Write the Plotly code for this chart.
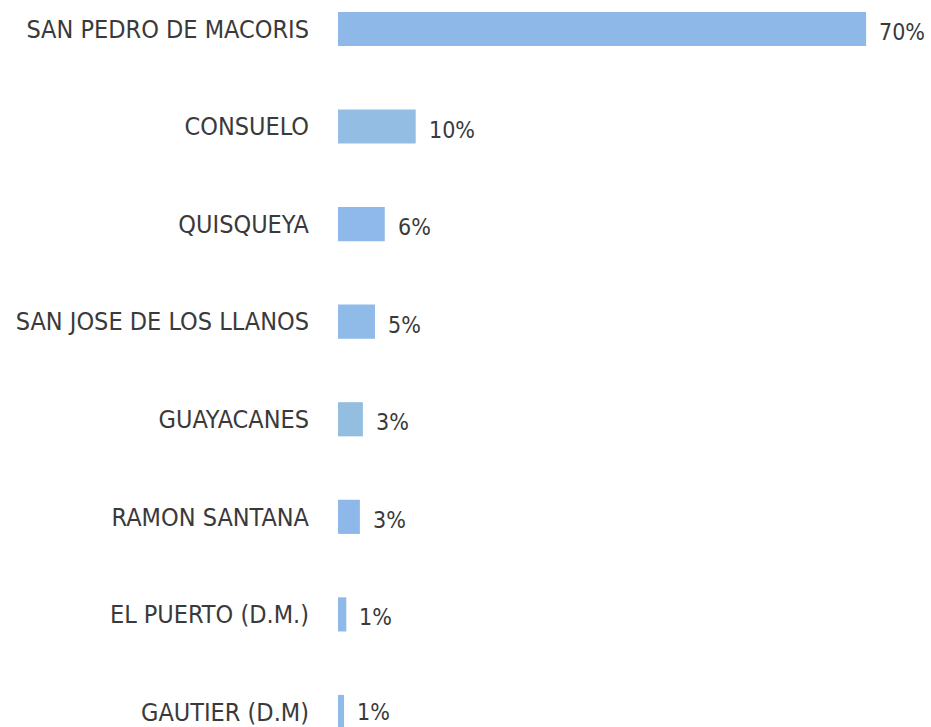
import plotly.graph_objects as go

categories = ["SAN PEDRO DE MACORIS", "CONSUELO", "QUISQUEYA", "SAN JOSE DE LOS LLANOS",
              "GUAYACANES", "RAMON SANTANA", "EL PUERTO (D.M.)", "GAUTIER (D.M)"]
values = [70, 10.3, 6.2, 4.9, 3.3, 2.9, 1.1, 0.8]
value_labels = ["70%", "10%", "6%", "5%", "3%", "3%", "1%", "1%"]
colors = ["#8db8e8", "#94bde3", "#8fb9ea", "#90bbe8", "#93bee0", "#8fb8ea", "#8fb9e8", "#90bae8"]

FONT = "DejaVu Sans Condensed, Liberation Sans Narrow, sans-serif"

fig = go.Figure(go.Bar(
    y=categories, x=values, orientation="h",
    marker=dict(color=colors, line=dict(width=0)),
    width=0.35,
))

n = len(categories)
for i, (c, v, t) in enumerate(zip(categories, values, value_labels)):
    fig.add_annotation(x=v, y=c, text=t, showarrow=False, xanchor="left",
                       xshift=11, yshift=(-3 if i < n - 1 else 0),
                       font=dict(family=FONT, size=23, color="#3a3a3a"))

fig.update_layout(
    width=931, height=727,
    margin=dict(l=338, r=0, t=0, b=0),
    plot_bgcolor="white", paper_bgcolor="white",
    showlegend=False,
    xaxis=dict(range=[0, 78.6], visible=False),
    yaxis=dict(range=[7.154, -0.297], showgrid=False, zeroline=False, showline=False,
               ticks="", ticklabelstandoff=28,
               tickfont=dict(family=FONT, size=25, color="#3a3a3a")),
)

fig.write_html("out.html")
